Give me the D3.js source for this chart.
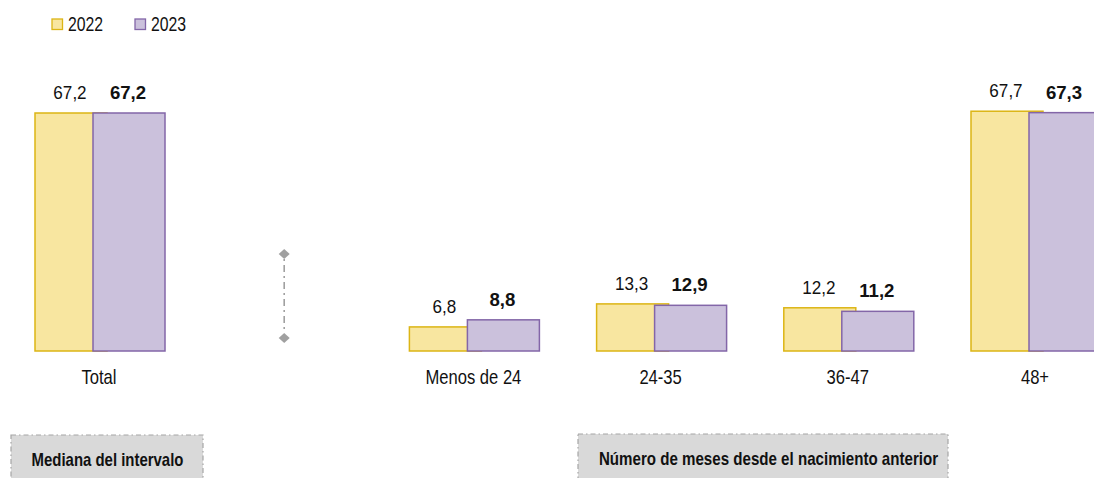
<!DOCTYPE html>
<html><head><meta charset="utf-8">
<script src="https://cdn.jsdelivr.net/npm/d3@7"></script>
<style>
html,body{margin:0;padding:0;background:#fff;}
svg{display:block;}
</style></head>
<body>
<svg id="chart" width="1094" height="478"></svg>
<script>
const categories = ["Total", "", "Menos de 24", "24-35", "36-47", "48+"];
const values2022 = [67.2, null, 6.8, 13.3, 12.2, 67.7];
const values2023 = [67.2, null, 8.8, 12.9, 11.2, 67.3];
const seriesNames = ["2022", "2023"];
const groupLabels = ["Mediana del intervalo", "Número de meses desde el nacimiento anterior"];

const FONT = "'Liberation Sans',Arial,sans-serif";
const fill = ["#f8e6a0", "#cbc1dc"];
const stroke = ["#dcb515", "#8366a8"];

const svg = d3.select("#chart");
const step = 187.2;
const x = d3.scaleBand().domain(categories).range([3.4, 3.4 + step * categories.length]).padding(0);
const y = d3.scaleLinear().domain([0, 67.2]).range([351, 113]);

const cx = c => x(c) + x.bandwidth() / 2;
const barW = 72;
const offsets = [-62, -4];

function label(g, tx, ty, txt, size, sx, weight, anchor) {
  return g.append("text")
    .attr("transform", `translate(${tx},${ty}) scale(${sx},1)`)
    .attr("text-anchor", anchor || "middle")
    .attr("font-family", FONT)
    .attr("font-size", size)
    .attr("font-weight", weight || "normal")
    .attr("fill", "#111")
    .text(txt);
}

[values2022, values2023].forEach((vals, si) => {
  const data = categories.map((c, i) => ({c, v: vals[i]})).filter(d => d.v != null);
  svg.append("g").selectAll("rect").data(data).join("rect")
    .attr("x", d => cx(d.c) + offsets[si])
    .attr("y", d => y(d.v))
    .attr("width", barW)
    .attr("height", d => y(0) - y(d.v))
    .attr("fill", fill[si])
    .attr("stroke", stroke[si])
    .attr("stroke-width", 1.5);
});
const lg = svg.append("g");
[values2022, values2023].forEach((vals, si) => {
  categories.forEach((c, i) => {
    const v = vals[i];
    if (v == null) return;
    const t = d3.format(".1f")(v).replace(".", ",");
    if (si === 0) label(lg, cx(c) + offsets[si] + barW / 2 - 1, y(v) - 14, t, 18, 0.95, "normal");
    else label(lg, cx(c) + offsets[si] + barW / 2 - 1, y(v) - 14, t, 19, 0.98, "bold");
  });
});

// category axis labels
const ag = svg.append("g");
categories.filter(c => c !== "").forEach(c => label(ag, cx(c) + 2, 384, c, 20, 0.83));

// separator in blank category
const sx = cx("");
svg.append("line").attr("x1", sx).attr("x2", sx).attr("y1", 259).attr("y2", 333)
  .attr("stroke", "#a0a0a0").attr("stroke-width", 1.6).attr("stroke-dasharray", "2,4,7,4");
[254, 338].forEach(yy => {
  svg.append("path").attr("d", "M0,-5L5.5,0L0,5L-5.5,0Z")
    .attr("transform", `translate(${sx},${yy})`).attr("fill", "#a0a0a0");
});

// legend
const legX = [52, 135];
const leg = svg.append("g");
seriesNames.forEach((n, i) => {
  leg.append("rect").attr("x", legX[i]).attr("y", 19).attr("width", 10.5).attr("height", 10.5)
    .attr("fill", fill[i]).attr("stroke", stroke[i]).attr("stroke-width", 1.3);
  label(leg, legX[i] + 16, 31, n, 20, 0.79, "normal", "start");
});

// group label boxes
const boxes = [{x: 11, y: 435, w: 192, tx: 107.5, ty: 466, t: groupLabels[0], s: 0.83}, {x: 578, y: 434, w: 370, tx: 768.5, ty: 465, t: groupLabels[1], s: 0.84}];
const bg = svg.append("g");
boxes.forEach(b => {
  bg.append("rect").attr("x", b.x).attr("y", b.y).attr("width", b.w).attr("height", 60)
    .attr("fill", "#d9d9d9").attr("stroke", "#a6a6a6").attr("stroke-width", 1.2)
    .attr("stroke-dasharray", "5,3,1.5,3");
  label(bg, b.tx, b.ty, b.t, 18, b.s, "bold");
});
</script>
</body></html>
